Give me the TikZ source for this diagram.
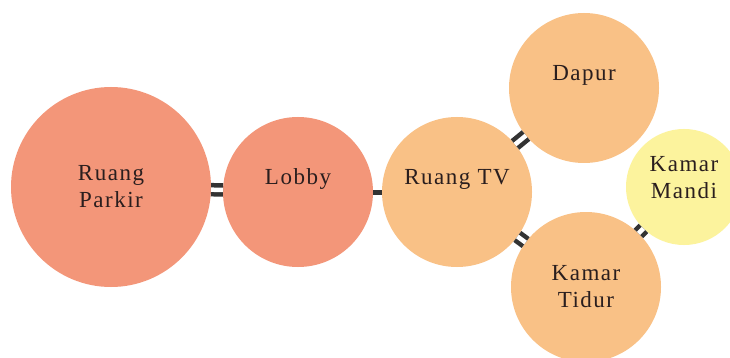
\documentclass[tikz,border=0pt]{standalone}
\usepackage{fontspec}
\setmainfont{Liberation Serif}[LetterSpace=6.5]
\usepackage{xcolor}
\usepackage{tikz}
\usetikzlibrary{positioning}

\definecolor{salmon}{HTML}{F39679}
\definecolor{peach}{HTML}{F9C186}
\definecolor{lemon}{HTML}{FCF39D}
\definecolor{ink}{HTML}{2A1E1E}
\definecolor{bar}{HTML}{333333}

\begin{document}
\begin{tikzpicture}[x=1pt, y=-1pt]
        \tikzstyle{room} = [circle, inner sep=0pt, outer sep=0pt, text=ink, align=center, font=\fontsize{23}{27}\selectfont]
        \tikzstyle{roomlabel} = [text=ink, align=center, font=\fontsize{23}{27}\selectfont]
        \tikzstyle{double line} = [draw=bar, line width=4.5pt, double=white, double distance=4.5pt]
        \tikzstyle{single line} = [draw=bar, line width=5pt]

        \clip (0,0) rectangle (730,358);
        \fill[white] (0,0) rectangle (730,358);

        % ruang (lingkaran)
        \node [room, fill=salmon, minimum size=200pt] (parkir) at (111,187) {Ruang\\Parkir};
        \node [room, fill=salmon, minimum size=150pt, label={[roomlabel, yshift=12.5pt]center:Lobby}] (lobby) at (298,192) {};
        \node [room, fill=peach, minimum size=150pt, label={[roomlabel, yshift=12.5pt]center:Ruang TV}] (tv) at (457,192) {};
        \node [room, fill=peach, minimum size=150pt, label={[roomlabel, yshift=12.5pt]center:Dapur}] (dapur) at (584,88) {};
        \node [room, fill=peach, minimum size=150pt] (tidur) at (586,287) {Kamar\\Tidur};
        \node [room, fill=lemon, minimum size=116pt, label={[roomlabel, yshift=9.5pt]center:Kamar\\Mandi}] (mandi) at (684,187) {};

        % hubungan antar ruang
        \path [double line] (parkir) -- (lobby);
        \path [single line] (lobby) -- (tv);
        \path [double line] (tv) -- (dapur);
        \path [double line] (tv) -- (tidur);
        \path [double line] (tidur) -- (mandi);
    \end{tikzpicture}
\end{document}
